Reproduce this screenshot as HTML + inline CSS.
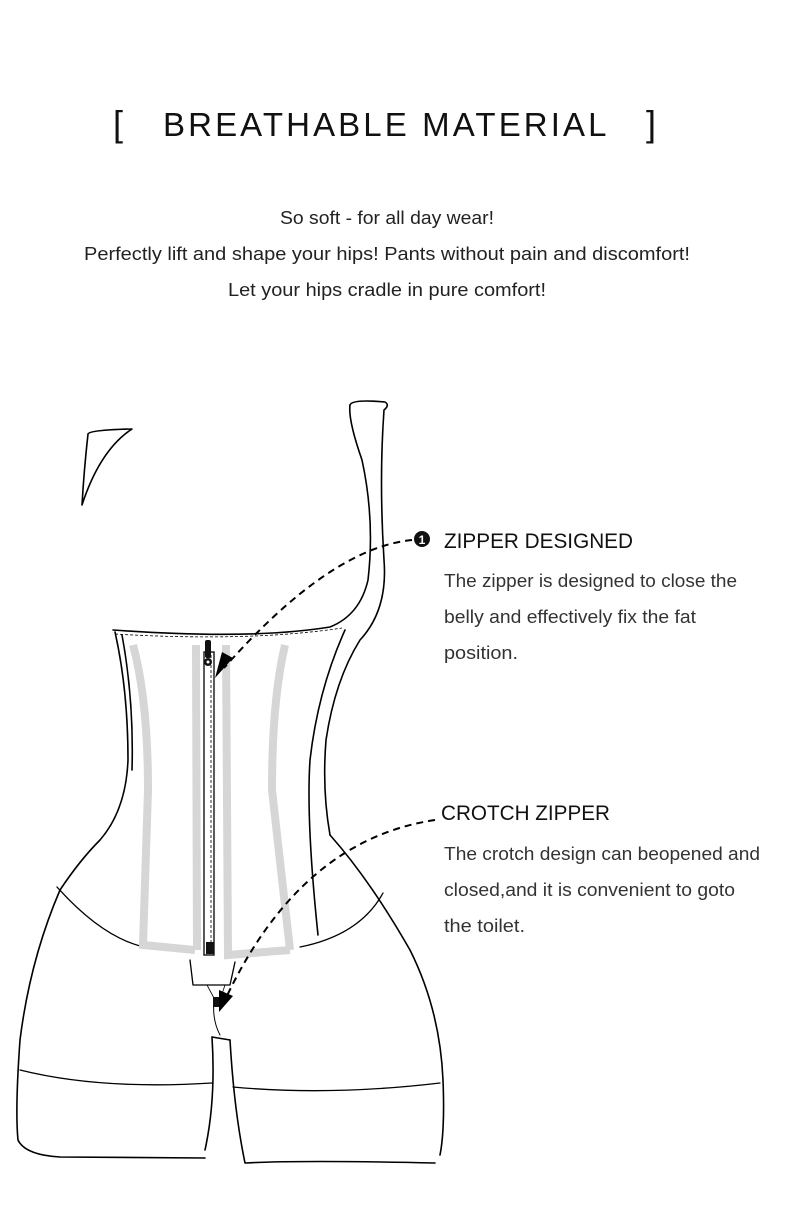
<!DOCTYPE html>
<html><head><meta charset="utf-8"><style>
html,body{margin:0;padding:0;background:#fff;}
svg{display:block;}
text{font-family:"Liberation Sans",sans-serif;}
</style></head><body>
<svg width="790" height="1215" viewBox="0 0 790 1215" xmlns="http://www.w3.org/2000/svg">
<defs>
<marker id="ah" viewBox="0 0 10 10" refX="8" refY="5" markerWidth="8" markerHeight="8" markerUnits="userSpaceOnUse" orient="auto"><path d="M0,0 L10,5 L0,10 z" fill="#000"/></marker>
</defs>
<marker id="dummy"/>
<!-- Title -->
<text x="113" y="136" font-size="36" fill="#111">[</text>
<text x="163" y="136" font-size="33" fill="#111" letter-spacing="3.5" textLength="447" lengthAdjust="spacing">BREATHABLE MATERIAL</text>
<text x="646" y="136" font-size="36" fill="#111">]</text>
<!-- Subtitle -->
<g font-size="18" fill="#222" text-anchor="middle">
<text x="387" y="224" textLength="214" lengthAdjust="spacingAndGlyphs">So soft - for all day wear!</text>
<text x="387" y="260" textLength="606" lengthAdjust="spacingAndGlyphs">Perfectly lift and shape your hips! Pants without pain and discomfort!</text>
<text x="387" y="296" textLength="318" lengthAdjust="spacingAndGlyphs">Let your hips cradle in pure comfort!</text>
</g>
<!-- Right texts -->
<circle cx="422" cy="539" r="8" fill="#111"/>
<text x="422" y="544" font-size="12" font-weight="bold" fill="#fff" text-anchor="middle">1</text>
<text x="444" y="548" font-size="21" fill="#111" textLength="189" lengthAdjust="spacingAndGlyphs">ZIPPER DESIGNED</text>
<g font-size="18" fill="#333">
<text x="444" y="587" textLength="293" lengthAdjust="spacingAndGlyphs">The zipper is designed to close the</text>
<text x="444" y="623" textLength="252" lengthAdjust="spacingAndGlyphs">belly and effectively fix the fat</text>
<text x="444" y="659" textLength="74" lengthAdjust="spacingAndGlyphs">position.</text>
</g>
<text x="441" y="820" font-size="21" fill="#111" textLength="169" lengthAdjust="spacingAndGlyphs">CROTCH ZIPPER</text>
<g font-size="18" fill="#333">
<text x="444" y="860" textLength="316" lengthAdjust="spacingAndGlyphs">The crotch design can beopened and</text>
<text x="444" y="896" textLength="291" lengthAdjust="spacingAndGlyphs">closed,and it is convenient to goto</text>
<text x="444" y="932" textLength="81" lengthAdjust="spacingAndGlyphs">the toilet.</text>
</g>
<!-- Garment -->
<g fill="none" stroke="#000" stroke-width="1.6" stroke-linecap="round" stroke-linejoin="round">
<path d="M88,434 Q90,430 132,429 Q100,450 82,505 Q84,470 88,434"/>
<path d="M350,405 Q352,399 385,402 Q390,405 384,410 Q379,480 384,560 Q388,610 360,640 Q335,680 326,740 Q322,790 330,835"/>
<path d="M350,405 Q348,420 362,460 Q375,520 368,580 Q360,615 330,627 Q250,640 113,630"/>
<path d="M115,632 Q128,690 128,760 Q126,810 100,840 Q80,860 60,890"/>
<path d="M122,635 Q134,700 132,770"/>
<path d="M345,630 Q318,690 310,760 Q306,820 318,935"/>
<path d="M330,835 Q370,880 410,950 Q440,1010 443,1080 Q445,1130 440,1155"/>
<path d="M60,890 Q30,960 20,1040 Q15,1110 18,1140 Q25,1155 60,1157 L205,1158"/>
<path d="M212,1037 Q216,1100 205,1150"/>
<path d="M230,1040 Q234,1110 245,1163 Q300,1160 435,1163"/>
<path d="M212,1037 L230,1040"/>
<path d="M20,1070 Q100,1090 212,1083" stroke-width="1.3"/>
<path d="M233,1087 Q330,1096 440,1083" stroke-width="1.3"/>
<path d="M57,887 Q100,935 140,946" stroke-width="1.3"/>
<path d="M383,893 Q360,935 300,947" stroke-width="1.3"/>
<path d="M190,960 L193,985 L230,985 L235,962" stroke-width="1.3"/>
<path d="M207,985 L215,1000 M225,985 L220,1000" stroke-width="0.8"/>
<path d="M214,1000 Q212,1020 220,1035" stroke-width="1"/>
</g>
<g fill="none" stroke="#d6d6d6" stroke-width="8">
<path d="M133,645 Q148,700 148,790 L143,945 L195,950"/>
<path d="M196,645 L197,950"/>
<path d="M226,645 L228,955 L290,950"/>
<path d="M285,645 Q272,700 272,790 L290,950"/>
</g>
<path d="M115,634 Q250,642 342,628" fill="none" stroke="#000" stroke-width="0.8" stroke-dasharray="3,2"/>
<rect x="204" y="652" width="10" height="303" fill="#fff" stroke="#000" stroke-width="1.3"/>
<line x1="211" y1="655" x2="211" y2="950" stroke="#000" stroke-width="0.8" stroke-dasharray="3,2"/>
<rect x="205" y="640" width="6" height="18" rx="2" fill="#111"/>
<circle cx="208" cy="662" r="4" fill="#111"/>
<circle cx="208" cy="662" r="1.5" fill="#fff"/>
<rect x="206" y="942" width="8" height="12" fill="#111"/>
<rect x="213" y="997" width="6" height="10" fill="#111"/>
<path d="M412,540 Q330,548 224,668" fill="none" stroke="#000" stroke-width="2" stroke-dasharray="7,5"/>
<path d="M233,658 L215,678 L222,652 z" fill="#000"/>
<path d="M435,820 Q300,840 225,1000" fill="none" stroke="#000" stroke-width="2" stroke-dasharray="7,5"/>
<path d="M233,996 L219,1012 L219,990 z" fill="#000"/>
</svg>
</body></html>
